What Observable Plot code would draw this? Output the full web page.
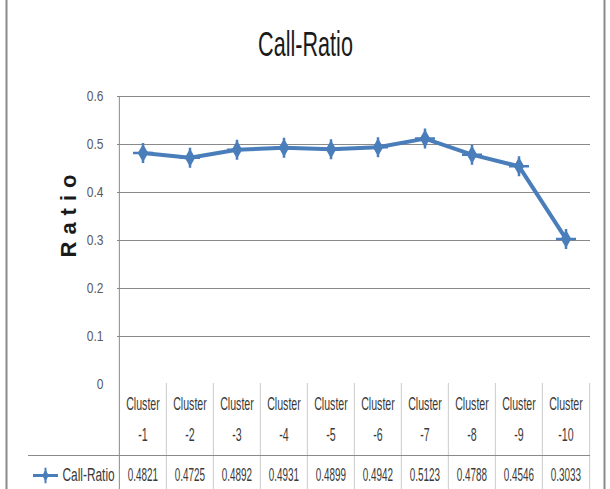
<!DOCTYPE html>
<html><head><meta charset="utf-8">
<script src="https://cdn.jsdelivr.net/npm/d3@7"></script>
<script src="https://cdn.jsdelivr.net/npm/@observablehq/plot@0.6"></script>
<style>body{margin:0;background:#fff}</style>
</head><body><div id="chart"></div>
<script>
const clusters = ["Cluster -1","Cluster -2","Cluster -3","Cluster -4","Cluster -5","Cluster -6","Cluster -7","Cluster -8","Cluster -9","Cluster -10"];
const clusterTop = ["Cluster","Cluster","Cluster","Cluster","Cluster","Cluster","Cluster","Cluster","Cluster","Cluster"];
const clusterBottom = ["-1","-2","-3","-4","-5","-6","-7","-8","-9","-10"];
const values = [0.4821,0.4725,0.4892,0.4931,0.4899,0.4942,0.5123,0.4788,0.4546,0.3033];
const valueLabels = ["0.4821","0.4725","0.4892","0.4931","0.4899","0.4942","0.5123","0.4788","0.4546","0.3033"];
const yTicks = [0,0.1,0.2,0.3,0.4,0.5,0.6];
const yTickLabels = ["0","0.1","0.2","0.3","0.4","0.5","0.6"];
const titleText = "Call-Ratio";
const seriesName = "Call-Ratio";
const yLabel = "Ratio";

const data = clusters.map((c,i)=>({c, top: clusterTop[i], bot: clusterBottom[i], v: values[i], lab: valueLabels[i]}));
const tickData = yTicks.map((t,i)=>({t, lab: yTickLabels[i]}));

const W = 610, H = 489, ML = 117, MR = 20, MT = 96, MB = 105;
const bw = (W - ML - MR) / clusters.length;
const blue = "#4a7ebb", grid = "#8a8a8a";
const sans = "'Liberation Sans',Arial,sans-serif";

const chart = Plot.plot({
  width: W, height: H,
  marginLeft: ML, marginRight: MR, marginTop: MT, marginBottom: MB,
  style: {fontFamily: sans, background: "#fff"},
  x: {type: "band", domain: clusters, padding: 0, axis: null},
  y: {domain: [0, 0.6], axis: null},
  marks: [
    Plot.frame({stroke: grid, strokeWidth: 2, insetLeft: -111, insetRight: -14, insetTop: -110, insetBottom: -120}),
    Plot.ruleY(yTicks.filter(d => d > 0), {stroke: grid, strokeWidth: 1}),
    // left axis line through table
    Plot.ruleX([clusters[0]], {dx: -bw/2, insetBottom: -MB, stroke: grid}),
    // table column dividers
    Plot.ruleX(clusters.slice(1), {dx: -bw/2, insetTop: H - MT - MB - 1, insetBottom: -MB, stroke: "#cccccc"}),
    Plot.ruleX([clusters[clusters.length-1]], {dx: bw/2, insetTop: H - MT - MB - 1, insetBottom: -MB, stroke: "#cccccc"}),
    // table horizontal line
    Plot.ruleY([0], {dy: 71, insetLeft: -89, stroke: grid}),
    // y tick labels
    Plot.text(tickData, {y: "t", text: "lab", frameAnchor: "left", textAnchor: "end", lineAnchor: "middle", dx: -14, fontSize: 15, fill: "#5a5a5a", ariaDescription: "sq80"}),
    // table labels
    Plot.text(data, {x: "c", text: "top", frameAnchor: "bottom", lineAnchor: "middle", dy: 20, fontSize: 18, fill: "#3a3a3a", ariaDescription: "sq59"}),
    Plot.text(data, {x: "c", text: "bot", frameAnchor: "bottom", lineAnchor: "middle", dy: 51, fontSize: 18, fill: "#3a3a3a", ariaDescription: "sq59"}),
    Plot.text(data, {x: "c", text: "lab", frameAnchor: "bottom", lineAnchor: "middle", dy: 91, fontSize: 18, fill: "#3a3a3a", ariaDescription: "sq55"}),
    // legend key in table
    Plot.ruleY([0], {dy: 91, insetLeft: -84, insetRight: W - MR - 58, stroke: blue, strokeWidth: 3}),
    Plot.dot([0], {frameAnchor: "bottom-left", dx: -72, dy: 91, symbol: "diamond", r: 3.5, fill: blue}),
    Plot.dot([0], {frameAnchor: "bottom-left", dx: -72, dy: 91, symbol: "plus", r: 5, stroke: blue, strokeWidth: 2}),
    Plot.text([seriesName], {frameAnchor: "bottom-left", textAnchor: "start", lineAnchor: "middle", dx: -55, dy: 91, fontSize: 18, fill: "#3a3a3a", ariaDescription: "sq66"}),
    // series
    Plot.line(data, {x: "c", y: "v", stroke: blue, strokeWidth: 4}),
    Plot.dot(data, {x: "c", y: "v", symbol: "diamond", r: 5.5, fill: blue}),
    Plot.dot(data, {x: "c", y: "v", symbol: "plus", r: 6.5, stroke: blue, strokeWidth: 2.5}),
    // title
    Plot.text([titleText], {frameAnchor: "top", lineAnchor: "middle", dx: 305 - (ML + (W - ML - MR)/2), dy: -52, fontSize: 36, fill: "#1a1a1a", ariaDescription: "sq60"}),
    // y label
    Plot.text([yLabel], {frameAnchor: "left", rotate: -90, textAnchor: "start", lineAnchor: "middle", dx: -49, dy: 17, fontSize: 22, fontWeight: "bold", fill: "#1a1a1a", ariaDescription: "ylabel"})
  ]
});
document.getElementById("chart").appendChild(chart);

const svg = d3.select(chart);
svg.style("overflow", "hidden");
svg.selectAll('g[aria-description="ylabel"] text').style("letter-spacing", "7px");
function squeeze(sel, s) {
  svg.selectAll(sel).each(function() {
    const t = d3.select(this);
    const tr = t.attr("transform");
    if (tr) t.attr("transform", tr + ` scale(${s},1)`);
    else {
      const x = +t.attr("x") || 0, y = +t.attr("y") || 0;
      t.attr("x", null).attr("y", null).attr("transform", `translate(${x},${y}) scale(${s},1)`);
    }
  });
}
for (const s of ["sq80","sq59","sq55","sq66","sq60"]) {
  squeeze(`g[aria-description="${s}"] text`, +s.slice(2) / 100);
}
</script></body></html>
